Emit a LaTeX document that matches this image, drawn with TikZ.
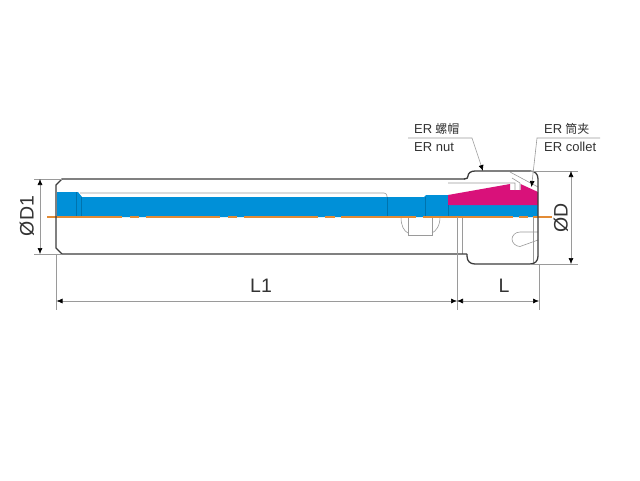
\documentclass[tikz,border=0pt]{standalone}
\usepackage{fontspec}
\setmainfont{Liberation Sans}
\newfontfamily\cjkf{Noto Sans CJK SC}
\usetikzlibrary{arrows.meta}
\definecolor{bluef}{HTML}{0090D8}
\definecolor{pinkf}{HTML}{D9117A}
\definecolor{orangel}{HTML}{E38B35}
\definecolor{outl}{HTML}{3C3C3C}
\definecolor{thinl}{HTML}{9A9A9A}
\definecolor{labelc}{HTML}{333333}
\tikzset{
  outline/.style={draw=outl,line width=1.3pt},
  thinline/.style={draw=thinl,line width=0.6pt},
  dimline/.style={draw=thinl,line width=0.6pt,{Latex[length=6pt,width=5pt,color=black]}-{Latex[length=6pt,width=5pt,color=black]}},
  leaderline/.style={draw=thinl,line width=0.6pt,-{Latex[length=6pt,width=5pt,color=black]}},
  dimtext/.style={text=labelc,font=\fontsize{19.5}{20}\selectfont,inner sep=0pt},
  smalltext/.style={text=labelc,font=\fontsize{13}{14}\selectfont,inner sep=0pt,anchor=west},
}
\begin{document}
\begin{tikzpicture}[x=1pt,y=-1pt]
\useasboundingbox (0,0) rectangle (640,480);
\fill[white] (0,0) rectangle (640,480);
% fills
\fill[bluef] (57,192) -- (78,192) -- (82,197) -- (424,197) -- (426,195) -- (448,195) -- (448,205) -- (538,205) -- (538,217) -- (57,217) -- cycle;
\fill[pinkf] (448,195) -- (510,184) -- (510,190) -- (520.5,190) -- (520.5,184) -- (538,192) -- (538,205) -- (448,205) -- cycle;
% seams
\draw[draw=bluef!80!black,line width=0.4pt] (76,192) -- (76,217) (81,197) -- (81,217) (387,197) -- (387,217) (425,197) -- (425,217) (448,205) -- (448,217);
% thin inner lines
\draw[thinline,rounded corners=3pt] (80,193) -- (387,193) -- (387,197);
\draw[thinline] (448,183) -- (515,183) -- (515,190) (520,183) -- (520,190) (510,172) -- (538,187) (512,178) -- (520,183);
\draw[thinline] (401,217) .. controls (401,226) and (404,231) .. (408,233);
\draw[thinline] (440,217) .. controls (440,226) and (436,231) .. (432,233);
\draw[thinline] (408,217) -- (408,235) -- (432,235) -- (432,217);
\draw[thinline] (462,217) -- (462,254);
\draw[thinline] (533,217) -- (533,264);
\draw[thinline] (538,232) -- (520,232) .. controls (515,232) and (512,236) .. (512,239) .. controls (512,243) and (516,246.5) .. (520,246.5) -- (538,240);
% orange axis
\draw[orangel,line width=1.2pt] (47,217) -- (122,217) (130,217) -- (139,217) (146,217) -- (220,217) (228,217) -- (237,217) (244,217) -- (318,217) (325,217) -- (335,217) (341,217) -- (416,217) (423,217) -- (513,217) (519,217) -- (528,217) (533,217) -- (552,217);
% outline
\draw[outline] (465,179) -- (62,179) -- (56,185) -- (56,248) -- (62,254) -- (467,254);
\draw[outline] (464,179) .. controls (467,179) and (468,178) .. (468,176) .. controls (468,173) and (471,171) .. (475,171) -- (530,171) .. controls (535,171) and (538,174) .. (538,179) -- (538,256) .. controls (538,261) and (535,264) .. (530,264) -- (475,264) .. controls (470,264) and (467,261) .. (467,256) -- (467,254);
% extension lines
\coordinate (d1t) at (34,179); \coordinate (d1b) at (34,254);
\draw[thinline] (d1t) -- (62,179) (d1b) -- (62,254);
\draw[thinline] (530,171) -- (578,171) (530,264) -- (578,264);
\draw[thinline] (56.5,254) -- (56.5,310) (457,217) -- (457,310) (539,264) -- (539,310);
% dimensions
\coordinate (a1) at (40,179); \coordinate (a2) at (40,254);
\draw[dimline] (a1) -- (a2);
\coordinate (b1) at (571,171); \coordinate (b2) at (571,264);
\draw[dimline] (b1) -- (b2);
\coordinate (c1) at (56.5,301); \coordinate (c2) at (457,301); \coordinate (c3) at (539,301);
\draw[dimline] (c1) -- (c2);
\draw[dimline] (c2) -- (c3);
\node[dimtext,rotate=90] (dd1) at (27,216) {ØD1};
\node[dimtext,rotate=90] (dd) at (561,218) {ØD};
\node[dimtext] (l1) at (261,286) {L1};
\node[dimtext] (l) at (504,286) {L};
% leaders
\coordinate (n1) at (408,138); \coordinate (n2) at (472,138); \coordinate (n3) at (483,171);
\draw[leaderline] (n1) -- (n2) -- (n3);
\coordinate (m1) at (600,138); \coordinate (m2) at (537,138); \coordinate (m3) at (531.5,187);
\draw[leaderline] (m1) -- (m2) -- (m3);
\node[smalltext] (t1) at (414,129) {ER\hspace{3pt}{\cjkf\fontsize{12}{14}\selectfont 螺帽}};
\node[smalltext] (t2) at (414,147) {ER nut};
\node[smalltext] (t3) at (544,129) {ER\hspace{3pt}{\cjkf\fontsize{12}{14}\selectfont 筒夹}};
\node[smalltext] (t4) at (544,147) {ER collet};
\end{tikzpicture}
\end{document}
